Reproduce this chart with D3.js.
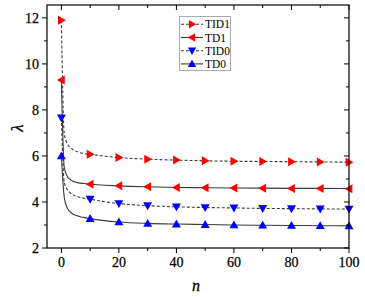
<!DOCTYPE html>
<html><head><meta charset="utf-8">
<script src="https://cdn.jsdelivr.net/npm/d3@7"></script>
<style>body{margin:0;background:#fff}svg{display:block}</style>
</head><body>
<svg id="c" width="365" height="297"></svg>
<script>
const nVals = [0,1,2,3,4,5,6,8,10,15,20,30,40,50,60,70,80,90,100];
const TID1 = [11.9,6.95,6.55,6.37,6.28,6.21,6.16,6.10,6.07,5.99,5.93,5.86,5.82,5.79,5.77,5.76,5.75,5.74,5.73];
const TD1  = [9.3,5.5,5.13,4.98,4.90,4.86,4.83,4.80,4.77,4.73,4.70,4.66,4.63,4.62,4.61,4.60,4.59,4.59,4.58];
const TID0 = [7.65,4.85,4.55,4.40,4.32,4.26,4.22,4.16,4.12,4.01,3.93,3.84,3.79,3.76,3.74,3.72,3.71,3.70,3.69];
const TD0  = [6.0,4.2,3.75,3.58,3.48,3.42,3.38,3.32,3.28,3.19,3.13,3.07,3.04,3.02,3.00,2.99,2.98,2.97,2.96];
const markerN = [0,10,20,30,40,50,60,70,80,90,100];
const xTicks = [0,20,40,60,80,100];
const yTicks = [2,4,6,8,10,12];
const seriesNames = ["TID1","TD1","TID0","TD0"];

const series = [
  {name:"TID1", vals:TID1, color:"#ff0000", dash:"3,2", sym:"right"},
  {name:"TD1",  vals:TD1,  color:"#ff0000", dash:null,  sym:"left"},
  {name:"TID0", vals:TID0, color:"#0000ff", dash:"3,2", sym:"down"},
  {name:"TD0",  vals:TD0,  color:"#0000ff", dash:null,  sym:"up"}
];

const svg = d3.select("#c");
const L=47, R=349, T=5, B=248;
const x = d3.scaleLinear().domain([-5,100]).range([L,R]);
const y = d3.scaleLinear().domain([2,12.56]).range([B,T]);
const font = "'Liberation Serif','Times New Roman',serif";

svg.append("defs").append("clipPath").attr("id","clip").append("rect")
  .attr("x",L).attr("y",T).attr("width",R-L).attr("height",B-T);

const line = d3.line().x((d,i)=>x(nVals[i])).y(d=>y(d)).curve(d3.curveMonotoneX);

function tri(dir, s){
  const h = s;
  if(dir==="up") return `M0,${-h*0.6}L${h*0.6},${h*0.45}L${-h*0.6},${h*0.45}Z`;
  if(dir==="down") return `M0,${h*0.6}L${h*0.6},${-h*0.45}L${-h*0.6},${-h*0.45}Z`;
  if(dir==="right") return `M${h*0.6},0L${-h*0.45},${h*0.6}L${-h*0.45},${-h*0.6}Z`;
  return `M${-h*0.6},0L${h*0.45},${h*0.6}L${h*0.45},${-h*0.6}Z`;
}

const g = svg.append("g").attr("clip-path","url(#clip)");
series.forEach(s=>{
  g.append("path").attr("d",line(s.vals)).attr("fill","none")
    .attr("stroke","#3a3a3a").attr("stroke-width",1.1)
    .attr("stroke-dasharray",s.dash);
});
series.forEach(s=>{
  markerN.forEach(n=>{
    const i = nVals.indexOf(n);
    svg.append("path").attr("d",tri(s.sym,7.5))
      .attr("transform",`translate(${x(n)},${y(s.vals[i])})`)
      .attr("fill",s.color);
  });
});

svg.append("rect").attr("x",L).attr("y",T).attr("width",R-L).attr("height",B-T)
  .attr("fill","none").attr("stroke","#000").attr("stroke-width",1.2);

const ax = svg.append("g");
const xMinor = [10,30,50,70,90];
const txt = sel => sel.attr("font-family",font).attr("font-size",14)
  .attr("stroke","#000").attr("stroke-width",0.25);
xTicks.forEach(t=>{
  ax.append("line").attr("x1",x(t)).attr("x2",x(t)).attr("y1",B).attr("y2",B+5).attr("stroke","#000");
  ax.append("line").attr("x1",x(t)).attr("x2",x(t)).attr("y1",T).attr("y2",T+5).attr("stroke","#000");
  ax.append("text").attr("x",x(t)).attr("y",267).attr("text-anchor","middle").call(txt).text(t);
});
xMinor.forEach(t=>{
  ax.append("line").attr("x1",x(t)).attr("x2",x(t)).attr("y1",B).attr("y2",B+3).attr("stroke","#000");
  ax.append("line").attr("x1",x(t)).attr("x2",x(t)).attr("y1",T).attr("y2",T+3).attr("stroke","#000");
});
const yMinor = [3,5,7,9,11];
yTicks.forEach(t=>{
  ax.append("line").attr("x1",L-5).attr("x2",L).attr("y1",y(t)).attr("y2",y(t)).attr("stroke","#000");
  ax.append("line").attr("x1",R-5).attr("x2",R).attr("y1",y(t)).attr("y2",y(t)).attr("stroke","#000");
  ax.append("text").attr("x",39).attr("y",y(t)+5).attr("text-anchor","end").call(txt).text(t);
});
yMinor.forEach(t=>{
  ax.append("line").attr("x1",L-3).attr("x2",L).attr("y1",y(t)).attr("y2",y(t)).attr("stroke","#000");
  ax.append("line").attr("x1",R-3).attr("x2",R).attr("y1",y(t)).attr("y2",y(t)).attr("stroke","#000");
});

svg.append("text").attr("x",196).attr("y",291).attr("text-anchor","middle")
  .attr("font-family",font).attr("font-style","italic").attr("font-size",16)
  .attr("stroke","#000").attr("stroke-width",0.3).text("n");
svg.append("text").attr("transform","translate(23,128) rotate(-90)").attr("text-anchor","middle")
  .attr("font-family",font).attr("font-style","italic").attr("font-size",17)
  .attr("stroke","#000").attr("stroke-width",0.3).text("λ");

const lg = svg.append("g");
lg.append("rect").attr("x",179.5).attr("y",16.5).attr("width",51).attr("height",54)
  .attr("fill","#fff").attr("stroke","#aaa").attr("stroke-width",1);
series.forEach((s,i)=>{
  const yy = 24.3 + i*13.2;
  lg.append("line").attr("x1",181).attr("x2",203).attr("y1",yy).attr("y2",yy)
    .attr("stroke","#3a3a3a").attr("stroke-width",1.1).attr("stroke-dasharray",s.dash);
  lg.append("path").attr("d",tri(s.sym,7)).attr("transform",`translate(192,${yy})`).attr("fill",s.color);
  lg.append("text").attr("x",205).attr("y",yy+4).attr("font-family",font).attr("font-size",11.5)
    .text(seriesNames[i]);
});
</script>
</body></html>
